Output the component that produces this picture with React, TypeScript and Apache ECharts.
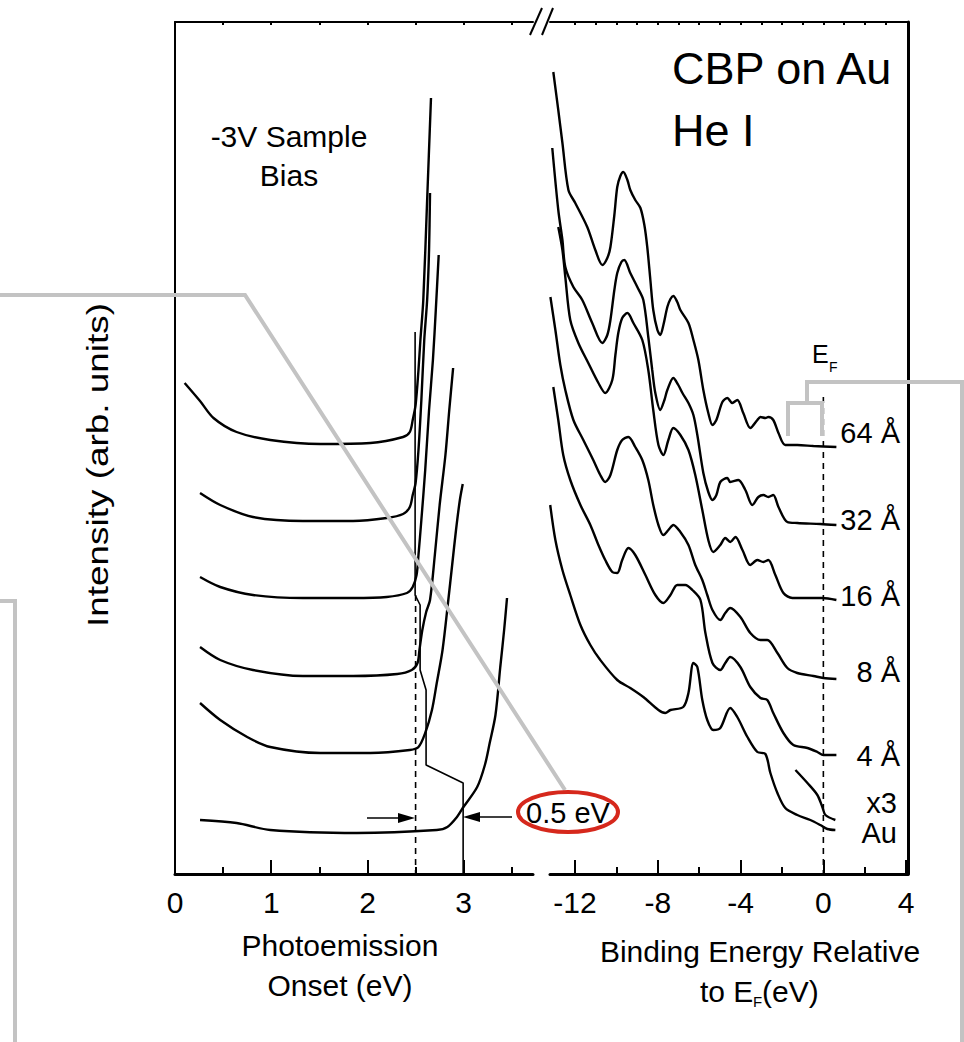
import React, { useEffect, useRef } from "react";
import * as echarts from "echarts";

// ---------- axis ticks ----------
const onsetTicks = [0, 1, 2, 3];
const onsetMinorTicks = [0.5, 1.5, 2.5, 3.5];
const onsetTopTicks = [0.5, 1, 1.5, 2, 2.5, 3, 3.5];
const bindingTicks = [-12, -8, -4, 0, 4];
const bindingMinorTicks = [-10, -6, -2, 2];
const bindingTopTicks = [-12, -11, -10, -9, -8, -7, -6, -5, -4, -3, -2, -1, 0, 1, 2, 3];

// ---------- left panel: photoemission onset (eV) vs intensity (arb., offset) ----------
const onset64 = [[0.10,49.1],[0.26,47.3],[0.40,45.6],[0.64,44.2],[0.99,43.4],[1.51,43.0],[2.03,43.1],[2.37,43.7],[2.44,44.2],[2.47,45.4],[2.50,46.9],[2.53,50.4],[2.55,53.4],[2.58,57.4],[2.62,67.4],[2.66,77.6]];
const onset32 = [[0.26,38.1],[0.47,36.9],[0.81,35.7],[1.33,35.3],[1.85,35.3],[2.20,35.6],[2.37,36.0],[2.44,36.7],[2.47,37.9],[2.50,39.1],[2.53,42.4],[2.56,47.4],[2.59,53.4],[2.62,57.4],[2.64,62.4],[2.65,68.1]];
const onset16 = [[0.26,29.7],[0.47,28.7],[0.81,27.9],[1.33,27.6],[1.85,27.6],[2.20,27.7],[2.41,28.1],[2.47,28.7],[2.51,29.9],[2.53,31.9],[2.56,35.4],[2.60,40.4],[2.64,46.4],[2.68,51.4],[2.71,56.4],[2.74,61.9]];
const onset8 = [[0.26,22.7],[0.47,21.4],[0.81,20.4],[1.33,19.8],[1.85,19.8],[2.31,20.0],[2.46,20.4],[2.52,21.1],[2.54,22.4],[2.57,24.4],[2.61,26.2],[2.65,27.4],[2.70,31.9],[2.75,36.9],[2.81,41.9],[2.85,46.4],[2.89,50.6]];
const onset4 = [[0.26,17.1],[0.47,15.4],[0.75,13.7],[0.99,12.7],[1.51,12.1],[2.03,12.1],[2.44,12.4],[2.53,12.7],[2.60,14.1],[2.67,16.4],[2.72,19.1],[2.78,22.4],[2.84,27.4],[2.88,30.9],[2.92,34.4],[2.96,37.4],[2.99,39.0]];
const onsetAu = [[0.26,5.4],[0.64,5.1],[0.99,4.4],[1.89,4.1],[2.72,4.4],[2.83,4.7],[2.93,5.7],[2.99,6.6],[3.14,8.7],[3.22,10.9],[3.27,13.1],[3.33,15.9],[3.38,20.7],[3.42,24.4],[3.45,27.6]];
const onsetMarker = [[2.495,54.2],[2.495,27.9],[2.547,26.9],[2.547,20.4],[2.609,18.4],[2.609,10.9],[2.994,9.1],[2.994,0]];
const onsetGuide = [[2.5,27.9],[2.5,0]];

// ---------- right panel: binding energy relative to EF (eV) ----------
const binding64 = [[-13.05,80.2],[-12.81,76.4],[-12.61,73.1],[-12.32,68.4],[-11.99,67.1],[-11.41,64.7],[-11.02,62.4],[-10.68,60.9],[-10.44,61.6],[-10.29,62.7],[-10.10,65.9],[-9.96,68.7],[-9.81,69.8],[-9.67,70.2],[-9.47,69.4],[-9.33,68.4],[-9.09,67.4],[-8.84,66.6],[-8.65,64.9],[-8.51,62.7],[-8.36,59.4],[-8.22,56.4],[-8.02,54.4],[-7.88,53.9],[-7.73,54.9],[-7.54,56.7],[-7.39,57.5],[-7.25,57.8],[-7.06,57.2],[-6.91,56.4],[-6.52,55.1],[-6.28,53.4],[-6.04,51.4],[-5.80,48.4],[-5.56,46.1],[-5.36,44.9],[-5.17,45.4],[-4.88,47.2],[-4.64,47.6],[-4.40,47.1],[-4.16,47.4],[-3.87,46.1],[-3.53,44.6],[-3.19,45.4],[-3.04,45.7],[-2.80,45.6],[-2.66,45.7],[-2.42,45.4],[-2.17,44.1],[-1.84,42.9],[-1.26,42.9],[-0.48,42.8],[0.63,42.7]];
const binding32 = [[-13.10,72.6],[-12.81,66.4],[-12.61,63.4],[-12.47,60.7],[-12.08,58.7],[-11.65,57.4],[-11.17,55.1],[-10.68,53.1],[-10.44,53.9],[-10.29,55.4],[-10.10,58.4],[-9.96,60.1],[-9.76,61.2],[-9.62,61.4],[-9.33,60.1],[-8.99,58.7],[-8.70,57.4],[-8.46,53.7],[-8.27,50.4],[-8.12,48.1],[-7.88,46.4],[-7.68,47.4],[-7.54,48.4],[-7.25,49.6],[-7.01,48.9],[-6.81,48.1],[-6.52,47.1],[-6.28,45.9],[-6.09,43.9],[-5.80,40.1],[-5.56,38.2],[-5.36,37.4],[-5.17,37.9],[-4.98,39.2],[-4.64,39.6],[-4.50,39.2],[-4.11,39.4],[-3.77,38.4],[-3.43,36.9],[-3.14,37.7],[-2.90,37.9],[-2.66,37.7],[-2.42,37.9],[-2.17,36.7],[-1.74,35.2],[-1.26,35.1],[-0.15,35.0],[0.63,34.9]];
const binding16 = [[-12.81,64.7],[-12.61,62.4],[-12.47,59.7],[-12.23,55.4],[-11.84,53.1],[-11.36,51.1],[-10.87,49.1],[-10.54,48.1],[-10.20,49.4],[-10.05,51.9],[-9.91,54.1],[-9.72,55.6],[-9.47,56.1],[-9.18,55.1],[-8.75,53.4],[-8.46,50.4],[-8.22,46.4],[-7.97,42.9],[-7.73,41.9],[-7.49,43.4],[-7.25,44.6],[-6.91,43.9],[-6.52,42.4],[-6.19,39.9],[-5.85,36.4],[-5.56,33.4],[-5.32,32.2],[-4.98,32.9],[-4.74,33.6],[-4.50,33.2],[-4.25,33.7],[-3.91,32.4],[-3.53,30.9],[-3.19,31.4],[-2.90,31.2],[-2.66,31.4],[-2.32,29.9],[-1.93,28.1],[-1.50,27.6],[-0.05,27.6],[0.63,27.4]];
const binding8 = [[-13.19,57.7],[-12.95,54.4],[-12.71,50.9],[-12.47,48.4],[-12.08,45.4],[-11.60,43.4],[-11.12,41.4],[-10.78,39.9],[-10.54,39.2],[-10.29,39.9],[-9.96,42.4],[-9.72,43.4],[-9.42,43.7],[-9.09,42.7],[-8.75,41.4],[-8.46,39.4],[-8.22,36.9],[-7.97,34.9],[-7.73,33.9],[-7.49,34.4],[-7.25,34.9],[-6.91,34.2],[-6.52,32.9],[-6.19,30.9],[-5.85,29.4],[-5.61,27.9],[-5.36,26.4],[-4.98,25.4],[-4.74,26.1],[-4.50,26.6],[-4.01,25.7],[-3.53,24.1],[-3.04,23.4],[-2.71,23.4],[-2.22,22.1],[-1.74,20.6],[-1.26,20.1],[-0.48,19.8],[0,19.6],[0.63,19.5]];
const binding4 = [[-13.05,48.7],[-12.81,45.4],[-12.57,41.9],[-12.23,39.4],[-11.74,36.9],[-11.26,34.9],[-10.87,32.9],[-10.54,31.4],[-10.20,30.2],[-9.96,30.1],[-9.72,31.4],[-9.42,32.6],[-9.09,31.9],[-8.60,29.9],[-8.12,27.9],[-7.73,27.1],[-7.39,27.9],[-7.06,28.9],[-6.67,28.9],[-6.33,28.4],[-5.94,27.4],[-5.70,24.1],[-5.36,21.1],[-4.98,20.4],[-4.74,21.1],[-4.50,21.7],[-4.01,20.7],[-3.53,18.7],[-3.04,17.6],[-2.71,17.4],[-2.42,16.1],[-1.93,14.1],[-1.45,12.9],[-0.77,12.6],[-0.29,12.2],[0,11.9],[0.63,11.9]];
const bindingAu = [[-13.2,36.9],[-12.95,33.4],[-12.61,30.4],[-12.23,27.9],[-11.74,24.9],[-11.26,22.9],[-10.78,21.4],[-9.96,19.4],[-9.33,18.6],[-8.70,17.7],[-7.97,16.4],[-7.64,16.1],[-7.39,16.4],[-6.77,16.7],[-6.52,18.1],[-6.28,21.1],[-6.09,20.7],[-5.85,17.4],[-5.61,15.4],[-5.32,14.4],[-4.98,14.6],[-4.50,16.6],[-4.16,15.7],[-3.67,13.7],[-3.19,12.2],[-2.80,12.0],[-2.56,10.1],[-2.22,8.1],[-1.84,6.6],[-1.26,5.9],[-0.63,5.4],[-0.15,4.9],[0.19,4.5],[0.58,4.4]];
const bindingAuX3 = [[-1.35,10.4],[-0.77,9.1],[-0.29,7.9],[-0.05,6.7],[0.10,5.9],[0.58,5.4]];
const fermiGuide = [[0,47.7],[0,0]];

const FONT = "'Liberation Sans', Arial, Helvetica, sans-serif";
const GRAY = "#c3c3c3";

function spectrum(name: string, data: number[][], xi: number, yi: number, extra: any = {}) {
  return {
    name, type: "line", data, xAxisIndex: xi, yAxisIndex: yi,
    showSymbol: false, symbol: "none", smooth: 0.3, silent: true,
    lineStyle: { color: "#000", width: 2.4 }, z: 3, ...extra,
  };
}

function xAxisDef(grid: number, min: number, max: number, position: string, ticks: number[], len: number, line: boolean, labels: boolean) {
  return {
    type: "value", gridIndex: grid, min, max, position,
    axisLine: { show: line, onZero: false, lineStyle: { color: "#000", width: position === "top" ? 2 : 3 } },
    axisTick: { show: true, inside: true, length: len, customValues: ticks, lineStyle: { color: "#000", width: 2 } },
    axisLabel: labels
      ? { show: true, customValues: ticks, fontSize: 30, color: "#000", fontFamily: FONT, margin: 13 }
      : { show: false },
    splitLine: { show: false },
  };
}

function txt(text: string, x: number, y: number, size: number, align = "center", extra: any = {}) {
  return {
    type: "text", x, y, z: 110,
    style: { text, fontSize: size, fontFamily: FONT, fill: "#000", textAlign: align, textVerticalAlign: "middle", align, verticalAlign: "middle" },
    ...extra,
  };
}

export default function App() {
  const ref = useRef<HTMLDivElement>(null);
  useEffect(() => {
    if (!ref.current) return;
    const chart = echarts.init(ref.current, null, { renderer: "svg" });
    const option: any = {
      animation: false,
      backgroundColor: "#fff",
      grid: [
        { left: 175, top: 22, width: 358, height: 852 },
        { left: 550, top: 22, width: 358, height: 852 },
      ],
      xAxis: [
        xAxisDef(0, 0, 3.72, "bottom", onsetTicks, 14, true, true),
        xAxisDef(0, 0, 3.72, "bottom", onsetMinorTicks, 7, false, false),
        xAxisDef(0, 0, 3.72, "top", onsetTopTicks, 3, true, false),
        xAxisDef(1, -13.21, 4.09, "bottom", bindingTicks, 14, true, true),
        xAxisDef(1, -13.21, 4.09, "bottom", bindingMinorTicks, 7, false, false),
        xAxisDef(1, -13.21, 4.09, "top", bindingTopTicks, 3, true, false),
      ],
      yAxis: [
        { type: "value", gridIndex: 0, min: 0, max: 85.2, position: "left",
          axisLine: { show: true, onZero: false, lineStyle: { color: "#000", width: 2 } },
          axisTick: { show: false }, axisLabel: { show: false }, splitLine: { show: false } },
        { type: "value", gridIndex: 1, min: 0, max: 85.2, position: "right",
          axisLine: { show: true, onZero: false, lineStyle: { color: "#000", width: 3 } },
          axisTick: { show: false }, axisLabel: { show: false }, splitLine: { show: false } },
      ],
      series: [
        spectrum("64 Å onset", onset64, 0, 0),
        spectrum("32 Å onset", onset32, 0, 0),
        spectrum("16 Å onset", onset16, 0, 0),
        spectrum("8 Å onset", onset8, 0, 0),
        spectrum("4 Å onset", onset4, 0, 0),
        spectrum("Au onset", onsetAu, 0, 0),
        spectrum("onset marker", onsetMarker, 0, 0, { smooth: false, lineStyle: { color: "#000", width: 1.6 } }),
        spectrum("onset guide", onsetGuide, 0, 0, { smooth: false, lineStyle: { color: "#000", width: 1.6, type: [6, 5] } }),
        spectrum("64 Å", binding64, 3, 1),
        spectrum("32 Å", binding32, 3, 1),
        spectrum("16 Å", binding16, 3, 1),
        spectrum("8 Å", binding8, 3, 1),
        spectrum("4 Å", binding4, 3, 1),
        spectrum("Au", bindingAu, 3, 1),
        spectrum("Au x3", bindingAuX3, 3, 1),
        spectrum("EF guide", fermiGuide, 3, 1, { smooth: false, lineStyle: { color: "#000", width: 1.6, type: [6, 5] } }),
      ],
      graphic: [
        { type: "line", z: 110, shape: { x1: 530, y1: 35, x2: 542, y2: 8 }, style: { stroke: "#000", lineWidth: 2 } },
        { type: "line", z: 110, shape: { x1: 542, y1: 35, x2: 553, y2: 8 }, style: { stroke: "#000", lineWidth: 2 } },
        { type: "polyline", z: 100, shape: { points: [[0, 295], [245, 295], [565, 790]] }, style: { stroke: GRAY, lineWidth: 4, fill: null } },
        { type: "polyline", z: 100, shape: { points: [[0, 601], [15, 601], [15, 1042]] }, style: { stroke: GRAY, lineWidth: 4, fill: null } },
        { type: "polyline", z: 100, shape: { points: [[788, 436], [788, 403], [822, 403], [822, 436]] }, style: { stroke: GRAY, lineWidth: 4, fill: null } },
        { type: "polyline", z: 100, shape: { points: [[807, 403], [807, 382], [962, 382], [962, 1042]] }, style: { stroke: GRAY, lineWidth: 4, fill: null } },
        { type: "ellipse", z: 105, shape: { cx: 568, cy: 812, rx: 50, ry: 20 }, style: { stroke: "#d6281c", lineWidth: 4, fill: "transparent" } },
        txt("0.5 eV", 568, 813, 29),
        { type: "line", z: 110, shape: { x1: 367, y1: 818, x2: 402, y2: 818 }, style: { stroke: "#000", lineWidth: 1.6 } },
        { type: "polygon", z: 110, shape: { points: [[415, 818], [398, 813], [398, 823]] }, style: { fill: "#000" } },
        { type: "line", z: 110, shape: { x1: 512, y1: 817, x2: 476, y2: 817 }, style: { stroke: "#000", lineWidth: 1.6 } },
        { type: "polygon", z: 110, shape: { points: [[463, 817], [480, 812], [480, 822]] }, style: { fill: "#000" } },
        txt("CBP on Au", 672, 68, 45, "left"),
        txt("He I", 672, 130, 45, "left"),
        txt("-3V Sample", 289, 136, 30),
        txt("Bias", 289, 175, 30),
        txt("E", 812, 354, 25, "left"),
        txt("F", 829, 367, 14, "left"),
        txt("64 Å", 900, 433, 29, "right"),
        txt("32 Å", 900, 520, 29, "right"),
        txt("16 Å", 900, 596, 29, "right"),
        txt("8 Å", 900, 672, 29, "right"),
        txt("4 Å", 900, 756, 29, "right"),
        txt("x3", 897, 803, 29, "right"),
        txt("Au", 897, 833, 29, "right"),
        txt("Photoemission", 340, 945, 30),
        txt("Onset (eV)", 340, 985, 30),
        txt("Binding Energy Relative", 760, 951, 30),
        txt("to E", 700, 991, 30, "left"),
        txt("F", 753, 1001, 15, "left"),
        txt("(eV)", 762, 991, 30, "left"),
        txt("Intensity (arb. units)", 98, 465, 30, "center", { rotation: Math.PI / 2, scaleX: 1.23 }),
      ],
    };
    chart.setOption(option);
    return () => chart.dispose();
  }, []);
  return (
    <div
      ref={ref}
      style={{ position: "fixed", left: 0, top: 0, width: 964, height: 1042, background: "#fff" }}
    />
  );
}
